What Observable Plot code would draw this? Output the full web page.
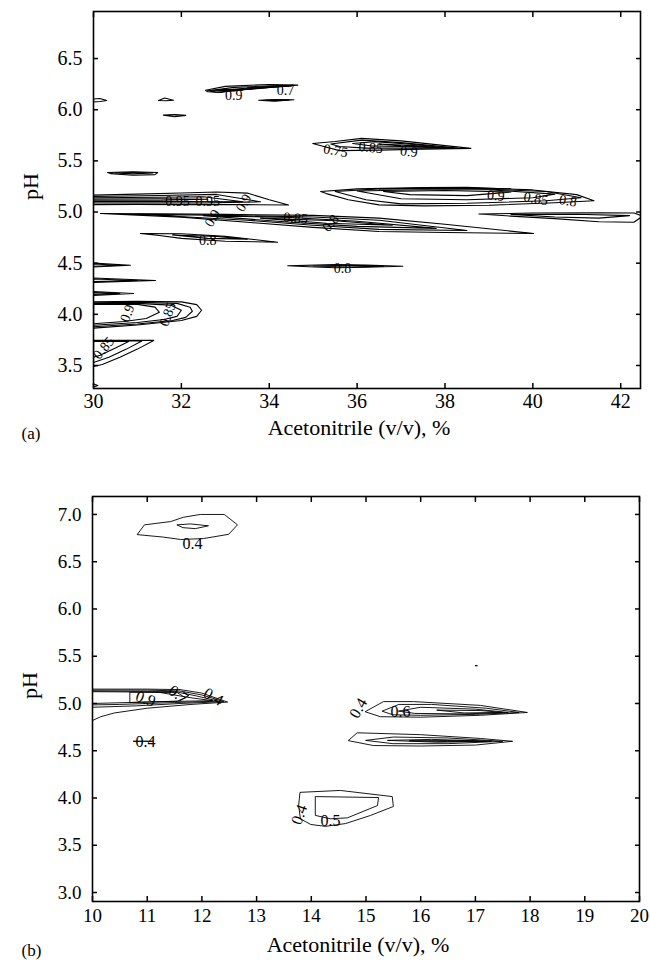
<!DOCTYPE html>
<html>
<head>
<meta charset="utf-8">
<script src="https://cdn.jsdelivr.net/npm/d3@7"></script>
<script src="https://cdn.jsdelivr.net/npm/@observablehq/plot@0.6"></script>
<style>
  html, body { margin: 0; padding: 0; background: #fff; }
  #chart { width: 650px; }
  #chart svg { display: block; }
  #chart svg text { font-family: 'Liberation Serif', 'Times New Roman', serif; }
</style>
</head>
<body>
<div id="chart"></div>
<script>
// ---------- Panel (a) ----------
const xTicksA = [30, 32, 34, 36, 38, 40, 42];
const yTicksA = [3.5, 4.0, 4.5, 5.0, 5.5, 6.0, 6.5];
const contoursA = [
  [[30,6.105],[30.15,6.11],[30.3,6.09],[30.15,6.08],[30,6.075]],
  [[31.48,6.09],[31.62,6.115],[31.82,6.093],[31.65,6.087]],
  [[31.59,5.947],[31.85,5.952],[32.1,5.945],[31.85,5.932]],
  [[32.55,6.19],[33.0,6.228],[34.0,6.247],[34.65,6.24],[34.0,6.218],[33.3,6.2],[32.9,6.168],[32.6,6.175]],
  [[32.7,6.19],[33.2,6.218],[34.2,6.237],[34.5,6.232],[33.8,6.212],[33.2,6.186]],
  [[32.85,6.19],[33.4,6.207],[34.2,6.226],[33.6,6.2]],
  [[32.6,6.185],[33.0,6.2],[33.4,6.19],[32.8,6.172]],
  [[33.5,6.215],[34.2,6.232],[34.55,6.238],[34.0,6.225]],
  [[33.76,6.092],[34.1,6.1],[34.56,6.097],[34.1,6.082]],
  [[33.9,6.092],[34.2,6.096],[34.45,6.094],[34.15,6.088]],
  [[30.32,5.386],[30.9,5.392],[31.46,5.386],[31.4,5.366],[30.9,5.36],[30.4,5.375]],
  [[30.5,5.382],[30.9,5.386],[31.35,5.382],[30.9,5.372]],
  [[34.99,5.67],[35.5,5.69],[36.1,5.72],[37.0,5.695],[38.59,5.622],[37.5,5.615],[36.5,5.605],[35.6,5.6],[35.2,5.645]],
  [[35.4,5.665],[36.1,5.703],[37.0,5.678],[38.3,5.625],[37.2,5.625],[36.2,5.625],[35.6,5.64]],
  [[35.9,5.67],[36.4,5.688],[37.3,5.66],[38.0,5.628],[37.0,5.64],[36.3,5.647]],
  [[36.5,5.665],[37.4,5.648],[37.8,5.63],[37.0,5.645]],
  [[35.17,5.2],[36.0,5.226],[37.5,5.24],[38.5,5.241],[40.0,5.216],[41.0,5.17],[41.39,5.11],[40.5,5.09],[39.0,5.066],[37.5,5.06],[36.5,5.07],[35.8,5.12],[35.3,5.18]],
  [[35.5,5.2],[36.5,5.226],[38.5,5.232],[40.3,5.2],[41.1,5.14],[40.3,5.11],[38.5,5.085],[37.0,5.08],[36.2,5.12]],
  [[36.0,5.205],[37.5,5.218],[39.0,5.218],[40.5,5.175],[40.0,5.14],[38.5,5.12],[37.0,5.13]],
  [[36.6,5.2],[38.0,5.21],[39.5,5.195],[38.5,5.16],[37.2,5.17]],
  [[36.5,5.225],[38.0,5.238],[39.5,5.228],[38.0,5.232]],
  [[38.77,4.98],[40.0,4.99],[41.5,4.992],[42.3,4.99],[42.5,4.96],[42.3,4.9],[41.5,4.905],[40.5,4.935],[39.5,4.96]],
  [[39.5,4.977],[41.0,4.978],[42.2,4.965],[41.5,4.94],[40.5,4.952]],
  [[30,5.165],[31.0,5.175],[32.0,5.186],[32.8,5.196],[33.5,5.185],[34.0,5.12],[34.44,5.068],[33.5,5.072],[32.0,5.072],[31.0,5.075],[30,5.072]],
  [[30,5.152],[31.5,5.162],[32.8,5.172],[33.8,5.1],[32.5,5.088],[31.0,5.088],[30,5.088]],
  [[30,5.14],[31.5,5.145],[32.5,5.15],[33.4,5.1],[32.0,5.102],[30,5.102]],
  [[30,5.128],[31.5,5.13],[32.6,5.125],[31.5,5.115],[30,5.115]],
  [[30.16,4.985],[31.5,4.982],[33.0,4.977],[35.0,4.967],[36.5,4.94],[38.0,4.88],[40.02,4.79],[38.0,4.8],[36.5,4.81],[35.0,4.85],[33.5,4.9],[32.0,4.95],[31.0,4.97]],
  [[31.0,4.978],[33,4.967],[35,4.952],[36.5,4.92],[38.5,4.82],[36.5,4.83],[35,4.87],[33.5,4.92]],
  [[32.5,4.965],[34.5,4.947],[36.0,4.91],[37.8,4.84],[36.0,4.86],[34.5,4.9]],
  [[33.8,4.94],[35.5,4.915],[36.8,4.87],[35.3,4.89]],
  [[31.07,4.79],[32.0,4.787],[33.0,4.762],[34.19,4.705],[33.0,4.715],[32.0,4.742],[31.5,4.77]],
  [[31.8,4.776],[32.8,4.76],[33.5,4.735],[32.6,4.742]],
  [[34.42,4.475],[35.5,4.486],[36.2,4.481],[37.04,4.47],[36.2,4.46],[35.5,4.455],[34.9,4.465]],
  [[35.0,4.473],[35.8,4.48],[36.6,4.471],[35.8,4.463]],
  [[30,4.5],[30.84,4.48],[30,4.462]],
  [[30,4.492],[30.6,4.48],[30,4.47]],
  [[30,4.355],[31.41,4.33],[30,4.312]],
  [[30,4.345],[31.0,4.33],[30,4.32]],
  [[30,4.222],[30.91,4.203],[30,4.185]],
  [[30,4.213],[30.6,4.203],[30,4.195]],
  [[30,4.122],[31.0,4.127],[32.0,4.122],[32.35,4.095],[32.46,4.04],[32.35,3.98],[32.0,3.94],[31.0,3.895],[30,3.865]],
  [[30,4.112],[31.0,4.117],[31.9,4.107],[32.2,4.07],[32.25,4.03],[32.1,3.97],[31.8,3.94],[31.0,3.905],[30,3.878]],
  [[30,4.105],[31.0,4.107],[31.75,4.09],[32.0,4.04],[31.9,3.98],[31.6,3.95],[31.0,3.92],[30,3.893]],
  [[30,4.1],[31.0,4.097],[31.4,4.07],[31.5,4.02],[31.2,3.96],[30.7,3.93],[30,3.908]],
  [[30,3.745],[31.37,3.745],[31.0,3.66],[30.6,3.58],[30.2,3.51],[30,3.49]],
  [[30,3.74],[31.1,3.74],[30.75,3.66],[30.35,3.58],[30,3.53]],
  [[30,3.735],[30.8,3.735],[30.5,3.67],[30.15,3.6],[30,3.58]],
  [[30,3.29],[30.1,3.305],[30,3.32]]
];
const labelTextA = ["0.9","0.7","0.75","0.85","0.9","0.9","0.85","0.8","0.95","0.95","0.9","0.9","0.85","0.8","0.8","0.8","0.9","0.85","0.85"];
const labelXA = [33.19,34.37,35.51,36.31,37.18,39.16,40.07,40.80,31.91,32.60,33.42,32.71,34.60,35.40,32.60,35.67,30.77,31.69,30.23];
const labelYA = [6.14,6.19,5.60,5.63,5.59,5.16,5.13,5.11,5.10,5.10,5.09,4.94,4.94,4.89,4.72,4.45,4.01,4.00,3.67];
const labelAngleA = [0,0,10,5,5,5,10,10,0,0,-60,-60,5,-50,0,0,-70,-70,-50];

// ---------- Panel (b) ----------
const xTicksB = [10, 11, 12, 13, 14, 15, 16, 17, 18, 19, 20];
const yTicksB = [3.0, 3.5, 4.0, 4.5, 5.0, 5.5, 6.0, 6.5, 7.0];
const contoursB = [
  [[10.82,6.79],[10.95,6.89],[11.43,6.925],[11.66,6.97],[11.97,7.0],[12.41,7.0],[12.65,6.89],[12.49,6.79],[12.03,6.745],[11.61,6.735],[11.3,6.76]],
  [[11.55,6.89],[11.79,6.9],[12.12,6.88],[11.88,6.85],[11.66,6.86]],
  [[10,5.152],[11.0,5.152],[11.6,5.147],[12.0,5.11],[12.47,5.015],[11.8,4.99],[11.0,4.95],[10.4,4.9],[10.15,4.86],[10,4.82]],
  [[10,5.142],[11.0,5.142],[11.6,5.132],[12.0,5.09],[12.4,5.02],[11.6,5.0],[10.8,4.975],[10,4.96]],
  [[10,5.132],[11.5,5.127],[11.9,5.08],[12.3,5.025],[11.5,5.01],[10.5,4.99],[10,4.985]],
  [[10,5.125],[11.2,5.12],[11.8,5.06],[12.2,5.03],[11.3,5.02],[10,5.0]],
  [[10.69,5.12],[11.55,5.115],[11.7,5.06],[11.55,5.025],[10.69,5.01]],
  [[10.75,4.6],[11.1,4.6]],
  [[14.99,4.915],[15.32,5.02],[15.87,5.02],[17.09,4.98],[17.95,4.905],[17.09,4.875],[16.0,4.855],[15.27,4.86]],
  [[15.3,4.92],[15.6,4.99],[16.2,4.99],[17.2,4.95],[17.8,4.905],[17.0,4.885],[16.0,4.875],[15.5,4.88]],
  [[15.6,4.92],[16.0,4.96],[17.0,4.94],[17.6,4.905],[16.8,4.89],[15.9,4.895]],
  [[16.3,4.93],[17.1,4.925],[17.5,4.905],[16.8,4.9]],
  [[14.68,4.61],[14.84,4.69],[16.0,4.67],[17.09,4.63],[17.68,4.6],[17.0,4.56],[16.0,4.55],[15.14,4.555]],
  [[15.0,4.61],[15.5,4.645],[16.5,4.635],[17.5,4.6],[16.5,4.575],[15.5,4.575]],
  [[15.4,4.61],[16.2,4.62],[17.3,4.6],[16.3,4.59]],
  [[15.8,4.605],[16.8,4.61],[17.2,4.6],[16.5,4.597]],
  [[13.8,4.06],[14.53,4.08],[15.48,4.015],[15.5,3.91],[15.08,3.815],[14.63,3.73],[14.26,3.7],[13.99,3.72],[13.8,3.78],[13.77,3.92]],
  [[14.08,4.015],[15.23,4.005],[15.21,3.92],[14.66,3.79],[14.35,3.78],[14.08,3.815]],
  [[17.0,5.4],[17.03,5.4]]
];
const labelTextB = ["0.4","0.9","0.7","0.4","0.4","0.4","0.6","0.4","0.5"];
const labelXB = [11.83,10.97,11.57,12.21,10.97,14.86,15.63,13.78,14.35];
const labelYB = [6.69,5.05,5.095,5.07,4.59,4.95,4.915,3.825,3.76];
const labelAngleB = [0,20,35,30,0,-60,0,-70,0];

const FONT = "Liberation Serif";

function flatten(contours) {
  return contours.flatMap((pts, i) => pts.map(([x, y]) => ({x, y, id: i})));
}

function panel(o) {
  const labels = o.text.map((t, i) => ({t, x: o.lx[i], y: o.ly[i], a: o.la[i]}));
  const ff = {fontFamily: FONT, fill: "black"};
  return Plot.plot({
    width: 650, height: o.height,
    marginLeft: o.ml, marginRight: o.mr, marginTop: o.mt, marginBottom: o.mb,
    style: {fontFamily: FONT, background: "white", color: "black"},
    x: {domain: o.xd},
    y: {domain: o.yd},
    marks: [
      Plot.line(flatten(o.contours), {x: "x", y: "y", z: "id", curve: "linear-closed", stroke: "black", strokeWidth: o.sw, clip: true}),
      Plot.text(labels, {x: "x", y: "y", text: "t", rotate: "a", fontSize: o.lfs, ...ff}),
      Plot.frame({stroke: "black", strokeWidth: 1.6}),
      Plot.axisX({ticks: o.xt, anchor: "bottom", tickSize: -5, strokeWidth: 1.5, tickFormat: () => "", label: null}),
      Plot.axisX({ticks: o.xt, anchor: "top", tickSize: -5, strokeWidth: 1.5, tickFormat: () => "", label: null}),
      Plot.axisY({ticks: o.yt, anchor: "left", tickSize: -5, strokeWidth: 1.5, tickFormat: () => "", label: null}),
      Plot.axisY({ticks: o.yt, anchor: "right", tickSize: -5, strokeWidth: 1.5, tickFormat: () => "", label: null}),
      Plot.text(o.xt, {x: d => d, frameAnchor: "bottom", dy: o.xpad, lineAnchor: "top", text: d => String(d), fontSize: o.tfs, ...ff}),
      Plot.text(o.yt, {y: d => d, frameAnchor: "left", dx: -11, textAnchor: "end", text: d => d.toFixed(1), fontSize: o.tfs, ...ff}),
      Plot.text(["pH"], {frameAnchor: "left", dx: -63, rotate: -90, fontSize: 22, ...ff}),
      Plot.text(["Acetonitrile (v/v), %"], {frameAnchor: "bottom", dx: -8, dy: o.xlabDy, fontSize: 22, ...ff}),
      Plot.text([o.tag], {frameAnchor: "bottom-left", dx: 21 - o.ml, dy: o.tagDy, fontSize: 17, ...ff})
    ]
  });
}

const chart = document.getElementById("chart");
chart.append(panel({
  height: 470, ml: 93, mr: 10, mt: 11, mb: 82,
  xd: [30, 42.45], yd: [3.275, 6.96], xt: xTicksA, yt: yTicksA,
  contours: contoursA, text: labelTextA, lx: labelXA, ly: labelYA, la: labelAngleA,
  lfs: 14, tfs: 20, xpad: 5, xlabDy: 46, tagDy: 50, tag: "(a)", sw: 1.1
}));
chart.append(panel({
  height: 498, ml: 92, mr: 11, mt: 26, mb: 67,
  xd: [10, 20], yd: [2.905, 7.19], xt: xTicksB, yt: yTicksB,
  contours: contoursB, text: labelTextB, lx: labelXB, ly: labelYB, la: labelAngleB,
  lfs: 16, tfs: 19, xpad: 7, xlabDy: 50, tagDy: 54, tag: "(b)", sw: 0.9
}));
</script>
</body>
</html>
